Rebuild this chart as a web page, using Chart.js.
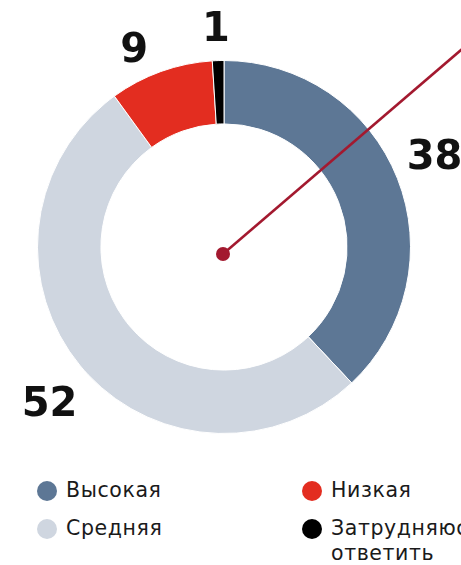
<!DOCTYPE html>
<html>
<head>
<meta charset="utf-8">
<script src="https://cdn.jsdelivr.net/npm/chart.js@4/dist/chart.umd.min.js"></script>
<style>
  html, body { margin: 0; padding: 0; background: #fff; overflow: hidden; }
  body { width: 461px; height: 565px; position: relative; }
  #wrap { width: 461px; height: 460px; position: relative; }
  #legend {
    display: grid;
    grid-template-columns: 265px 160px;
    row-gap: 13px;
    margin: 18px 0 0 37px;
    font-family: "DejaVu Sans", sans-serif;
    font-size: 20.5px;
    letter-spacing: 0.6px;
    color: #1a1a1a;
    white-space: nowrap;
  }
  .item { display: flex; align-items: flex-start; line-height: 25px; }
  .dot { width: 20px; height: 20px; border-radius: 50%; flex: none; margin: 3px 9px 0 0; }
</style>
</head>
<body>
<div id="wrap"><canvas id="donut"></canvas></div>
<div id="legend"></div>
<script>
const categories = ["Высокая", "Средняя", "Низкая", "Затрудняюсь ответить"];
const values = [38, 52, 9, 1];
const colors = ["#5d7795", "#cfd6e0", "#e32d20", "#000000"];
// legend order: two columns, filled row by row
const legendOrder = [0, 2, 1, 3];
const legendText = ["Высокая", "Низкая", "Средняя", "Затрудняюсь<br>ответить"];

document.addEventListener("DOMContentLoaded", () => {
  const ctx = document.getElementById("donut").getContext("2d");

  // small hand tweaks so the numbers sit like in the original layout
  const labelNudge = [[0, -5], [0, 14], [-13, 18], [-1, 10]];

  // big numbers outside each slice
  const outsideLabels = {
    id: "outsideLabels",
    afterDatasetsDraw(chart) {
      const c = chart.ctx;
      const meta = chart.getDatasetMeta(0);
      c.save();
      c.font = "700 40px 'DejaVu Sans', sans-serif";
      c.fillStyle = "#111";
      c.textAlign = "center";
      c.textBaseline = "middle";
      meta.data.forEach((arc, i) => {
        const mid = (arc.startAngle + arc.endAngle) / 2;
        const r = arc.outerRadius + 40;
        c.fillText(String(values[i]),
          arc.x + Math.cos(mid) * r + labelNudge[i][0],
          arc.y + Math.sin(mid) * r + labelNudge[i][1]);
      });
      c.restore();
    }
  };

  // decorative pointer line with dot
  const pointer = {
    id: "pointer",
    afterDatasetsDraw(chart) {
      const c = chart.ctx;
      const arc = chart.getDatasetMeta(0).data[0];
      const x0 = arc.x - 1, y0 = arc.y + 7;
      const ang = -40.6 * Math.PI / 180;
      c.save();
      c.strokeStyle = "#a3192f";
      c.lineWidth = 2.5;
      c.beginPath();
      c.moveTo(x0, y0);
      c.lineTo(x0 + Math.cos(ang) * 500, y0 + Math.sin(ang) * 500);
      c.stroke();
      c.fillStyle = "#a3192f";
      c.beginPath();
      c.arc(x0, y0, 7, 0, Math.PI * 2);
      c.fill();
      c.restore();
    }
  };

  new Chart(ctx, {
    type: "doughnut",
    data: {
      labels: categories,
      datasets: [{
        data: values,
        backgroundColor: colors,
        borderColor: "#ffffff",
        borderWidth: 1
      }]
    },
    options: {
      responsive: true,
      maintainAspectRatio: false,
      animation: false,
      cutout: "66%",
      layout: { padding: { top: 60, bottom: 26, left: 0, right: 13 } },
      plugins: {
        legend: { display: false },
        tooltip: { enabled: false }
      }
    },
    plugins: [pointer, outsideLabels]
  });

  const legend = document.getElementById("legend");
  legendOrder.forEach((idx, k) => {
    const item = document.createElement("div");
    item.className = "item";
    item.innerHTML = '<span class="dot" style="background:' + colors[idx] + '"></span><span>' + legendText[k] + '</span>';
    legend.appendChild(item);
  });
});
</script>
</body>
</html>
